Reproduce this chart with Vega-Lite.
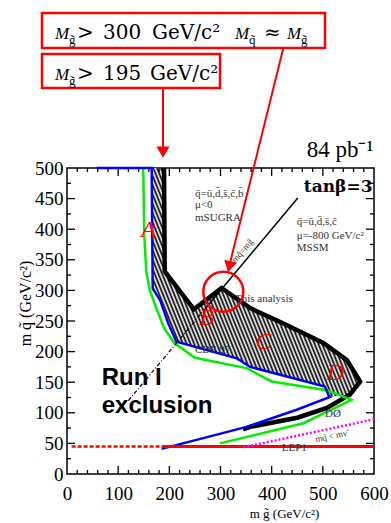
{
  "$schema": "https://vega.github.io/schema/vega-lite/v6.json",
  "width": 307,
  "height": 306,
  "autosize": {"type": "none"},
  "padding": {"left": 67, "top": 168, "right": 17, "bottom": 49},
  "background": "white",
  "config": {"view": {"stroke": "#000", "strokeWidth": 1.5}, "axis": {"grid": false}},
  "datasets": {
    "hatch": [
      {"i": 1, "x": 189.6, "y": 500}, {"i": 2, "x": 191, "y": 331}, {"i": 3, "x": 248, "y": 269}, {"i": 4, "x": 302, "y": 304},
      {"i": 5, "x": 358, "y": 271}, {"i": 6, "x": 423, "y": 246}, {"i": 7, "x": 501, "y": 214}, {"i": 8, "x": 547, "y": 186},
      {"i": 9, "x": 573, "y": 151}, {"i": 10, "x": 553, "y": 130}, {"i": 11, "x": 514, "y": 126}, {"i": 12, "x": 511, "y": 129},
      {"i": 13, "x": 504, "y": 143}, {"i": 14, "x": 358, "y": 175}, {"i": 15, "x": 332, "y": 189}, {"i": 16, "x": 214, "y": 216},
      {"i": 17, "x": 198, "y": 246}, {"i": 18, "x": 182, "y": 284}, {"i": 19, "x": 167.5, "y": 303}, {"i": 20, "x": 165.5, "y": 500}
    ],
    "black": [
      {"i": 1, "x": 189.6, "y": 500}, {"i": 2, "x": 191, "y": 331}, {"i": 3, "x": 248, "y": 269}, {"i": 4, "x": 302, "y": 304},
      {"i": 5, "x": 358, "y": 271}, {"i": 6, "x": 423, "y": 246}, {"i": 7, "x": 501, "y": 214}, {"i": 8, "x": 547, "y": 186},
      {"i": 9, "x": 573, "y": 151}, {"i": 10, "x": 553, "y": 130}, {"i": 11, "x": 508, "y": 108}, {"i": 12, "x": 450, "y": 92},
      {"i": 13, "x": 358, "y": 77}, {"i": 14, "x": 344, "y": 73}
    ],
    "blue": [
      {"i": 1, "x": 58, "y": 500}, {"i": 2, "x": 165.5, "y": 500}, {"i": 3, "x": 167.5, "y": 303}, {"i": 4, "x": 182, "y": 284},
      {"i": 5, "x": 198, "y": 246}, {"i": 6, "x": 214, "y": 216}, {"i": 7, "x": 332, "y": 189}, {"i": 8, "x": 358, "y": 175},
      {"i": 9, "x": 504, "y": 143}, {"i": 10, "x": 511, "y": 129}, {"i": 11, "x": 514, "y": 126}, {"i": 12, "x": 449, "y": 105},
      {"i": 13, "x": 351, "y": 77}, {"i": 14, "x": 185, "y": 41}
    ],
    "green": [
      {"i": 1, "x": 149, "y": 500}, {"i": 2, "x": 151, "y": 390}, {"i": 3, "x": 155, "y": 330}, {"i": 4, "x": 162, "y": 300},
      {"i": 5, "x": 175, "y": 270}, {"i": 6, "x": 190, "y": 238}, {"i": 7, "x": 210, "y": 214}, {"i": 8, "x": 250, "y": 190},
      {"i": 9, "x": 351, "y": 173}, {"i": 10, "x": 400, "y": 151}, {"i": 11, "x": 508, "y": 137}, {"i": 12, "x": 556, "y": 121},
      {"i": 13, "x": 462, "y": 83}, {"i": 14, "x": 299, "y": 50}
    ],
    "tMajB": [{"x": 100, "y": 0}, {"x": 200, "y": 0}, {"x": 300, "y": 0}, {"x": 400, "y": 0}, {"x": 500, "y": 0}],
    "tMajT": [{"x": 100, "y": 500}, {"x": 200, "y": 500}, {"x": 300, "y": 500}, {"x": 400, "y": 500}, {"x": 500, "y": 500}],
    "tMinB": [{"x": 20, "y": 0}, {"x": 40, "y": 0}, {"x": 60, "y": 0}, {"x": 80, "y": 0}, {"x": 120, "y": 0}, {"x": 140, "y": 0}, {"x": 160, "y": 0}, {"x": 180, "y": 0},
      {"x": 220, "y": 0}, {"x": 240, "y": 0}, {"x": 260, "y": 0}, {"x": 280, "y": 0}, {"x": 320, "y": 0}, {"x": 340, "y": 0}, {"x": 360, "y": 0}, {"x": 380, "y": 0},
      {"x": 420, "y": 0}, {"x": 440, "y": 0}, {"x": 460, "y": 0}, {"x": 480, "y": 0}, {"x": 520, "y": 0}, {"x": 540, "y": 0}, {"x": 560, "y": 0}, {"x": 580, "y": 0}],
    "tMinT": [{"x": 20, "y": 500}, {"x": 40, "y": 500}, {"x": 60, "y": 500}, {"x": 80, "y": 500}, {"x": 120, "y": 500}, {"x": 140, "y": 500}, {"x": 160, "y": 500}, {"x": 180, "y": 500},
      {"x": 220, "y": 500}, {"x": 240, "y": 500}, {"x": 260, "y": 500}, {"x": 280, "y": 500}, {"x": 320, "y": 500}, {"x": 340, "y": 500}, {"x": 360, "y": 500}, {"x": 380, "y": 500},
      {"x": 420, "y": 500}, {"x": 440, "y": 500}, {"x": 460, "y": 500}, {"x": 480, "y": 500}, {"x": 520, "y": 500}, {"x": 540, "y": 500}, {"x": 560, "y": 500}, {"x": 580, "y": 500}],
    "tMajL": [{"x": 0, "y": 50}, {"x": 0, "y": 100}, {"x": 0, "y": 150}, {"x": 0, "y": 200}, {"x": 0, "y": 250}, {"x": 0, "y": 300}, {"x": 0, "y": 350}, {"x": 0, "y": 400}, {"x": 0, "y": 450}],
    "tMajR": [{"x": 600, "y": 50}, {"x": 600, "y": 100}, {"x": 600, "y": 150}, {"x": 600, "y": 200}, {"x": 600, "y": 250}, {"x": 600, "y": 300}, {"x": 600, "y": 350}, {"x": 600, "y": 400}, {"x": 600, "y": 450}],
    "tMinL": [{"x": 0, "y": 25}, {"x": 0, "y": 75}, {"x": 0, "y": 125}, {"x": 0, "y": 175}, {"x": 0, "y": 225}, {"x": 0, "y": 275}, {"x": 0, "y": 325}, {"x": 0, "y": 375}, {"x": 0, "y": 425}, {"x": 0, "y": 475}],
    "tMinR": [{"x": 600, "y": 25}, {"x": 600, "y": 75}, {"x": 600, "y": 125}, {"x": 600, "y": 175}, {"x": 600, "y": 225}, {"x": 600, "y": 275}, {"x": 600, "y": 325}, {"x": 600, "y": 375}, {"x": 600, "y": 425}, {"x": 600, "y": 475}],
    "diagDash": [{"i": 1, "x": 120, "y": 120}, {"i": 2, "x": 270, "y": 270}],
    "diagSolid": [{"i": 1, "x": 270, "y": 270}, {"i": 2, "x": 451, "y": 451}],
    "lepDot": [{"i": 1, "x": 9, "y": 45}, {"i": 2, "x": 185, "y": 45}],
    "lep": [{"i": 1, "x": 185, "y": 45}, {"i": 2, "x": 600, "y": 45}],
    "magenta": [{"i": 1, "x": 344.6, "y": 43.6}, {"i": 2, "x": 600, "y": 89.4}],
    "small": [
      {"x": 250.2, "y": 453, "text": "q̄=ū,d̄,s̄,c̄,b̄"},
      {"x": 250.2, "y": 434, "text": "μ<0"},
      {"x": 250.2, "y": 413.4, "text": "mSUGRA"},
      {"x": 449, "y": 406.9, "text": "q̄=ū,d̄,s̄,c̄"},
      {"x": 449, "y": 383.5, "text": "μ=-800 GeV/c²"},
      {"x": 449, "y": 364.9, "text": "MSSM"},
      {"x": 328.3, "y": 281.6, "text": "This analysis"},
      {"x": 250.2, "y": 198, "text": "CDF 97"},
      {"x": 504.2, "y": 93, "text": "DØ"},
      {"x": 419.6, "y": 38, "text": "LEP1"}
    ],
    "diagLabel": [{"x": 342.6, "y": 364.9, "text": "mq̃=mg̃"}],
    "magLabel": [{"x": 516, "y": 62, "text": "mq̃ < mν̃"}],
    "letters": [
      {"x": 159, "y": 398.8, "text": "A"}, {"x": 273, "y": 255.7, "text": "B"},
      {"x": 384, "y": 216.5, "text": "C"}, {"x": 524.8, "y": 164.5, "text": "D"}
    ],
    "run": [{"x": 67.8, "y": 145.4, "text": "Run I"}, {"x": 67.8, "y": 99.7, "text": "exclusion"}],
    "tanb": [{"x": 597, "y": 460.8, "text": "tanβ=3"}],
    "lumi": [{"x": 598.6, "y": 518.5, "text": "84 pb⁻¹"}],
    "boxes": [
      {"x": -48.9, "x2": 504.2, "y": 696.1, "y2": 753.3},
      {"x": -48.9, "x2": 299, "y": 630.7, "y2": 686.3}
    ],
    "arrows": [
      {"g": 1, "i": 1, "x": 187.6, "y": 630.7}, {"g": 1, "i": 2, "x": 187.6, "y": 530},
      {"g": 2, "i": 1, "x": 422.7, "y": 695.6}, {"g": 2, "i": 2, "x": 317.2, "y": 340}
    ],
    "headDown": [{"x": 187.6, "y": 526}],
    "headDiag": [{"x": 317.2, "y": 338.7}],
    "circle": [{"x": 305.5, "y": 297.9}],
    "annM": [
      {"x": -23.5, "y": 710.8, "text": "M"}, {"x": 328.3, "y": 710.8, "text": "M"},
      {"x": 430, "y": 710.8, "text": "M"}, {"x": -23.5, "y": 643.8, "text": "M"}
    ],
    "annSub": [
      {"x": 3.9, "y": 702.6, "text": "g̃"}, {"x": 355.7, "y": 702.6, "text": "q̃"},
      {"x": 457.3, "y": 702.6, "text": "g̃"}, {"x": 3.9, "y": 635.6, "text": "g̃"}
    ],
    "annText": [
      {"x": 19.5, "y": 710.8, "text": ">"}, {"x": 70.4, "y": 710.8, "text": "300"},
      {"x": 166.1, "y": 710.8, "text": "GeV/c²"}, {"x": 385, "y": 710.8, "text": "≈"},
      {"x": 19.5, "y": 643.8, "text": ">"}, {"x": 70.4, "y": 643.8, "text": "195"},
      {"x": 162.2, "y": 643.8, "text": "GeV/c²"}
    ]
  },
  "encoding": {
    "x": {"field": "x", "type": "quantitative", "scale": {"domain": [0, 600], "nice": false, "zero": false}, "axis": null},
    "y": {"field": "y", "type": "quantitative", "scale": {"domain": [0, 500], "nice": false, "zero": false}, "axis": null}
  },
  "layer": [
    {
      "data": {"name": "hatch"},
      "mark": {
        "type": "line", "strokeWidth": 0,
        "fill": {
          "gradient": "linear", "x1": 0, "y1": 1, "x2": 1.2062, "y2": 0.465,
          "stops": [
            {"offset": 0, "color": "#000"}, {"offset": 0.00625, "color": "#fff"}, {"offset": 0.0125, "color": "#000"}, {"offset": 0.01875, "color": "#fff"}, {"offset": 0.025, "color": "#000"}, {"offset": 0.03125, "color": "#fff"}, {"offset": 0.0375, "color": "#000"}, {"offset": 0.04375, "color": "#fff"},
            {"offset": 0.05, "color": "#000"}, {"offset": 0.05625, "color": "#fff"}, {"offset": 0.0625, "color": "#000"}, {"offset": 0.06875, "color": "#fff"}, {"offset": 0.075, "color": "#000"}, {"offset": 0.08125, "color": "#fff"}, {"offset": 0.0875, "color": "#000"}, {"offset": 0.09375, "color": "#fff"},
            {"offset": 0.1, "color": "#000"}, {"offset": 0.10625, "color": "#fff"}, {"offset": 0.1125, "color": "#000"}, {"offset": 0.11875, "color": "#fff"}, {"offset": 0.125, "color": "#000"}, {"offset": 0.13125, "color": "#fff"}, {"offset": 0.1375, "color": "#000"}, {"offset": 0.14375, "color": "#fff"},
            {"offset": 0.15, "color": "#000"}, {"offset": 0.15625, "color": "#fff"}, {"offset": 0.1625, "color": "#000"}, {"offset": 0.16875, "color": "#fff"}, {"offset": 0.175, "color": "#000"}, {"offset": 0.18125, "color": "#fff"}, {"offset": 0.1875, "color": "#000"}, {"offset": 0.19375, "color": "#fff"},
            {"offset": 0.2, "color": "#000"}, {"offset": 0.20625, "color": "#fff"}, {"offset": 0.2125, "color": "#000"}, {"offset": 0.21875, "color": "#fff"}, {"offset": 0.225, "color": "#000"}, {"offset": 0.23125, "color": "#fff"}, {"offset": 0.2375, "color": "#000"}, {"offset": 0.24375, "color": "#fff"},
            {"offset": 0.25, "color": "#000"}, {"offset": 0.25625, "color": "#fff"}, {"offset": 0.2625, "color": "#000"}, {"offset": 0.26875, "color": "#fff"}, {"offset": 0.275, "color": "#000"}, {"offset": 0.28125, "color": "#fff"}, {"offset": 0.2875, "color": "#000"}, {"offset": 0.29375, "color": "#fff"},
            {"offset": 0.3, "color": "#000"}, {"offset": 0.30625, "color": "#fff"}, {"offset": 0.3125, "color": "#000"}, {"offset": 0.31875, "color": "#fff"}, {"offset": 0.325, "color": "#000"}, {"offset": 0.33125, "color": "#fff"}, {"offset": 0.3375, "color": "#000"}, {"offset": 0.34375, "color": "#fff"},
            {"offset": 0.35, "color": "#000"}, {"offset": 0.35625, "color": "#fff"}, {"offset": 0.3625, "color": "#000"}, {"offset": 0.36875, "color": "#fff"}, {"offset": 0.375, "color": "#000"}, {"offset": 0.38125, "color": "#fff"}, {"offset": 0.3875, "color": "#000"}, {"offset": 0.39375, "color": "#fff"},
            {"offset": 0.4, "color": "#000"}, {"offset": 0.40625, "color": "#fff"}, {"offset": 0.4125, "color": "#000"}, {"offset": 0.41875, "color": "#fff"}, {"offset": 0.425, "color": "#000"}, {"offset": 0.43125, "color": "#fff"}, {"offset": 0.4375, "color": "#000"}, {"offset": 0.44375, "color": "#fff"},
            {"offset": 0.45, "color": "#000"}, {"offset": 0.45625, "color": "#fff"}, {"offset": 0.4625, "color": "#000"}, {"offset": 0.46875, "color": "#fff"}, {"offset": 0.475, "color": "#000"}, {"offset": 0.48125, "color": "#fff"}, {"offset": 0.4875, "color": "#000"}, {"offset": 0.49375, "color": "#fff"},
            {"offset": 0.5, "color": "#000"}, {"offset": 0.50625, "color": "#fff"}, {"offset": 0.5125, "color": "#000"}, {"offset": 0.51875, "color": "#fff"}, {"offset": 0.525, "color": "#000"}, {"offset": 0.53125, "color": "#fff"}, {"offset": 0.5375, "color": "#000"}, {"offset": 0.54375, "color": "#fff"},
            {"offset": 0.55, "color": "#000"}, {"offset": 0.55625, "color": "#fff"}, {"offset": 0.5625, "color": "#000"}, {"offset": 0.56875, "color": "#fff"}, {"offset": 0.575, "color": "#000"}, {"offset": 0.58125, "color": "#fff"}, {"offset": 0.5875, "color": "#000"}, {"offset": 0.59375, "color": "#fff"},
            {"offset": 0.6, "color": "#000"}, {"offset": 0.60625, "color": "#fff"}, {"offset": 0.6125, "color": "#000"}, {"offset": 0.61875, "color": "#fff"}, {"offset": 0.625, "color": "#000"}, {"offset": 0.63125, "color": "#fff"}, {"offset": 0.6375, "color": "#000"}, {"offset": 0.64375, "color": "#fff"},
            {"offset": 0.65, "color": "#000"}, {"offset": 0.65625, "color": "#fff"}, {"offset": 0.6625, "color": "#000"}, {"offset": 0.66875, "color": "#fff"}, {"offset": 0.675, "color": "#000"}, {"offset": 0.68125, "color": "#fff"}, {"offset": 0.6875, "color": "#000"}, {"offset": 0.69375, "color": "#fff"},
            {"offset": 0.7, "color": "#000"}, {"offset": 0.70625, "color": "#fff"}, {"offset": 0.7125, "color": "#000"}, {"offset": 0.71875, "color": "#fff"}, {"offset": 0.725, "color": "#000"}, {"offset": 0.73125, "color": "#fff"}, {"offset": 0.7375, "color": "#000"}, {"offset": 0.74375, "color": "#fff"},
            {"offset": 0.75, "color": "#000"}, {"offset": 0.75625, "color": "#fff"}, {"offset": 0.7625, "color": "#000"}, {"offset": 0.76875, "color": "#fff"}, {"offset": 0.775, "color": "#000"}, {"offset": 0.78125, "color": "#fff"}, {"offset": 0.7875, "color": "#000"}, {"offset": 0.79375, "color": "#fff"},
            {"offset": 0.8, "color": "#000"}, {"offset": 0.80625, "color": "#fff"}, {"offset": 0.8125, "color": "#000"}, {"offset": 0.81875, "color": "#fff"}, {"offset": 0.825, "color": "#000"}, {"offset": 0.83125, "color": "#fff"}, {"offset": 0.8375, "color": "#000"}, {"offset": 0.84375, "color": "#fff"},
            {"offset": 0.85, "color": "#000"}, {"offset": 0.85625, "color": "#fff"}, {"offset": 0.8625, "color": "#000"}, {"offset": 0.86875, "color": "#fff"}, {"offset": 0.875, "color": "#000"}, {"offset": 0.88125, "color": "#fff"}, {"offset": 0.8875, "color": "#000"}, {"offset": 0.89375, "color": "#fff"},
            {"offset": 0.9, "color": "#000"}, {"offset": 0.90625, "color": "#fff"}, {"offset": 0.9125, "color": "#000"}, {"offset": 0.91875, "color": "#fff"}, {"offset": 0.925, "color": "#000"}, {"offset": 0.93125, "color": "#fff"}, {"offset": 0.9375, "color": "#000"}, {"offset": 0.94375, "color": "#fff"},
            {"offset": 0.95, "color": "#000"}, {"offset": 0.95625, "color": "#fff"}, {"offset": 0.9625, "color": "#000"}, {"offset": 0.96875, "color": "#fff"}, {"offset": 0.975, "color": "#000"}, {"offset": 0.98125, "color": "#fff"}, {"offset": 0.9875, "color": "#000"}, {"offset": 0.99375, "color": "#fff"},
            {"offset": 1, "color": "#000"}
          ]
        }
      },
      "encoding": {
        "order": {"field": "i"},
        "x": {"field": "x", "type": "quantitative", "scale": {"domain": [0, 600], "nice": false, "zero": false},
          "axis": {"orient": "bottom", "values": [0, 100, 200, 300, 400, 500, 600], "ticks": false, "domain": false,
            "labelFont": "Liberation Serif", "labelFontSize": 19, "labelColor": "#000", "labelPadding": 10, "labelFlush": false, "labelOverlap": false,
            "title": "m g̃ (GeV/c²)", "titleFont": "Liberation Serif", "titleFontSize": 13, "titleFontWeight": "normal", "titleColor": "#000",
            "titleX": 217, "titleY": 43, "titleBaseline": "alphabetic", "titleAlign": "center"}},
        "y": {"field": "y", "type": "quantitative", "scale": {"domain": [0, 500], "nice": false, "zero": false},
          "axis": {"orient": "left", "values": [0, 50, 100, 150, 200, 250, 300, 350, 400, 450, 500], "ticks": false, "domain": false,
            "labelFont": "Liberation Serif", "labelFontSize": 19, "labelColor": "#000", "labelPadding": 4, "labelFlush": false, "labelOverlap": false,
            "title": "m q̃ (GeV/c²)", "titleFont": "Liberation Serif", "titleFontSize": 16, "titleFontWeight": "normal", "titleColor": "#000",
            "titleX": -37, "titleY": 135, "titleBaseline": "alphabetic", "titleAlign": "center", "titleAngle": -90}}
      }
    },
    {"data": {"name": "tMajB"}, "mark": {"type": "point", "shape": "M0,0L0,-1", "filled": false, "stroke": "#000", "strokeWidth": 1.3, "size": 256, "opacity": 1}},
    {"data": {"name": "tMajT"}, "mark": {"type": "point", "shape": "M0,0L0,1", "filled": false, "stroke": "#000", "strokeWidth": 1.3, "size": 256, "opacity": 1}},
    {"data": {"name": "tMinB"}, "mark": {"type": "point", "shape": "M0,0L0,-1", "filled": false, "stroke": "#000", "strokeWidth": 1.3, "size": 64, "opacity": 1}},
    {"data": {"name": "tMinT"}, "mark": {"type": "point", "shape": "M0,0L0,1", "filled": false, "stroke": "#000", "strokeWidth": 1.3, "size": 64, "opacity": 1}},
    {"data": {"name": "tMajL"}, "mark": {"type": "point", "shape": "M0,0L1,0", "filled": false, "stroke": "#000", "strokeWidth": 1.3, "size": 256, "opacity": 1}},
    {"data": {"name": "tMajR"}, "mark": {"type": "point", "shape": "M0,0L-1,0", "filled": false, "stroke": "#000", "strokeWidth": 1.3, "size": 256, "opacity": 1}},
    {"data": {"name": "tMinL"}, "mark": {"type": "point", "shape": "M0,0L1,0", "filled": false, "stroke": "#000", "strokeWidth": 1.3, "size": 64, "opacity": 1}},
    {"data": {"name": "tMinR"}, "mark": {"type": "point", "shape": "M0,0L-1,0", "filled": false, "stroke": "#000", "strokeWidth": 1.3, "size": 64, "opacity": 1}},
    {"data": {"name": "black"}, "mark": {"type": "line", "color": "#000", "strokeWidth": 4.5}, "encoding": {"order": {"field": "i"}}},
    {"data": {"name": "green"}, "mark": {"type": "line", "color": "#00ee00", "strokeWidth": 2.5}, "encoding": {"order": {"field": "i"}}},
    {"data": {"name": "blue"}, "mark": {"type": "line", "color": "#0000ff", "strokeWidth": 2.5}, "encoding": {"order": {"field": "i"}}},
    {"data": {"name": "diagDash"}, "mark": {"type": "line", "color": "#000", "strokeWidth": 1.2, "strokeDash": [4, 2, 1, 2]}, "encoding": {"order": {"field": "i"}}},
    {"data": {"name": "diagSolid"}, "mark": {"type": "line", "color": "#000", "strokeWidth": 1.5}, "encoding": {"order": {"field": "i"}}},
    {"data": {"name": "lepDot"}, "mark": {"type": "line", "color": "#ff0000", "strokeWidth": 2.5, "strokeDash": [4, 2]}, "encoding": {"order": {"field": "i"}}},
    {"data": {"name": "lep"}, "mark": {"type": "line", "color": "#ff0000", "strokeWidth": 3}, "encoding": {"order": {"field": "i"}}},
    {"data": {"name": "magenta"}, "mark": {"type": "line", "color": "#ff00ff", "strokeWidth": 2.5, "strokeDash": [2, 2]}, "encoding": {"order": {"field": "i"}}},
    {"data": {"name": "small"}, "mark": {"type": "text", "font": "Liberation Serif", "fontSize": 11, "color": "#333", "align": "left", "baseline": "alphabetic"}, "encoding": {"text": {"field": "text"}}},
    {"data": {"name": "diagLabel"}, "mark": {"type": "text", "font": "Liberation Serif", "fontSize": 9, "color": "#333", "align": "center", "baseline": "middle", "angle": -50}, "encoding": {"text": {"field": "text"}}},
    {"data": {"name": "magLabel"}, "mark": {"type": "text", "font": "Liberation Serif", "fontSize": 9, "color": "#333", "align": "center", "baseline": "middle", "angle": -12}, "encoding": {"text": {"field": "text"}}},
    {"data": {"name": "letters"}, "mark": {"type": "text", "font": "Liberation Serif", "fontStyle": "italic", "fontSize": 24, "color": "#ff0000", "align": "center", "baseline": "middle"}, "encoding": {"text": {"field": "text"}}},
    {"data": {"name": "run"}, "mark": {"type": "text", "font": "Liberation Sans", "fontWeight": "bold", "fontSize": 24, "color": "#000", "align": "left", "baseline": "alphabetic"}, "encoding": {"text": {"field": "text"}}},
    {"data": {"name": "tanb"}, "mark": {"type": "text", "font": "DejaVu Serif", "fontWeight": "bold", "fontSize": 17, "color": "#000", "align": "right", "baseline": "alphabetic"}, "encoding": {"text": {"field": "text"}}},
    {"data": {"name": "lumi"}, "mark": {"type": "text", "font": "Liberation Serif", "fontSize": 23, "color": "#000", "align": "right", "baseline": "alphabetic"}, "encoding": {"text": {"field": "text"}}},
    {"data": {"name": "boxes"}, "mark": {"type": "rect", "fill": "#fff", "stroke": "#ff0000", "strokeWidth": 2.5}, "encoding": {"x2": {"field": "x2"}, "y2": {"field": "y2"}}},
    {"data": {"name": "arrows"}, "mark": {"type": "line", "color": "#ff0000", "strokeWidth": 2}, "encoding": {"detail": {"field": "g"}, "order": {"field": "i"}}},
    {"data": {"name": "headDown"}, "mark": {"type": "point", "shape": "triangle-down", "filled": true, "color": "#ff0000", "size": 170, "opacity": 1}},
    {"data": {"name": "headDiag"}, "mark": {"type": "point", "shape": "triangle-down", "filled": true, "color": "#ff0000", "size": 170, "angle": 14, "opacity": 1}},
    {"data": {"name": "circle"}, "mark": {"type": "point", "shape": "circle", "filled": false, "stroke": "#ff0000", "strokeWidth": 2.5, "size": 1600, "opacity": 1}},
    {"data": {"name": "annM"}, "mark": {"type": "text", "font": "Liberation Serif", "fontStyle": "italic", "fontSize": 17, "color": "#000", "align": "left", "baseline": "alphabetic"}, "encoding": {"text": {"field": "text"}}},
    {"data": {"name": "annSub"}, "mark": {"type": "text", "font": "Liberation Serif", "fontSize": 13, "color": "#000", "align": "left", "baseline": "alphabetic"}, "encoding": {"text": {"field": "text"}}},
    {"data": {"name": "annText"}, "mark": {"type": "text", "font": "DejaVu Serif", "fontSize": 20, "color": "#000", "align": "left", "baseline": "alphabetic"}, "encoding": {"text": {"field": "text"}}}
  ],
  "resolve": {"axis": {"x": "independent", "y": "independent"}}
}
